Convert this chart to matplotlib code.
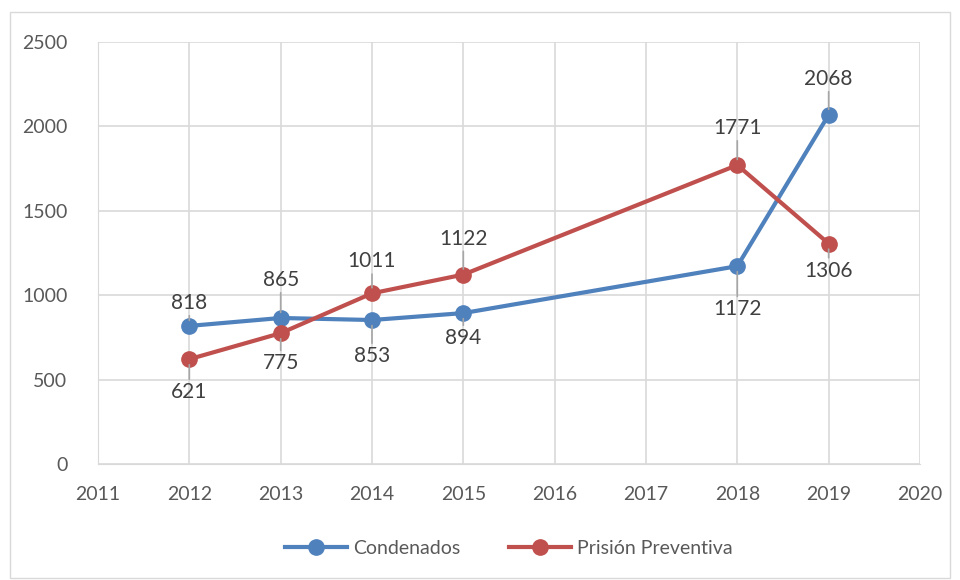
import matplotlib.pyplot as plt
from matplotlib.patches import Rectangle

plt.rcParams['font.family'] = ['Lato', 'DejaVu Sans']
plt.rcParams['font.size'] = 14

# data
years_cond = [2012, 2013, 2014, 2015, 2018, 2019]
condenados = [818, 865, 853, 894, 1172, 2068]
years_prev = [2012, 2013, 2014, 2015, 2018, 2019]
preventiva = [621, 775, 1011, 1122, 1771, 1306]

# label offsets in pixels (above > 0, below < 0)
cond_off = [23, 38, -36, -25, -43, 36]
prev_off = [-33, -30, 32, 36, 37, -27]

blue = '#4F81BD'
red = '#C0504D'
grid_c = '#D9D9D9'
txt = '#404040'

fig = plt.figure(figsize=(9.6, 5.8), dpi=100)
ax = fig.add_axes([0.1021, 0.2, 0.8562, 0.7276])

fig.patches.append(Rectangle((10 / 960, 2 / 580), 940 / 960, 566 / 580,
                             transform=fig.transFigure, fill=False,
                             edgecolor='#D9D9D9', linewidth=1))

ax.plot(years_cond, condenados, color=blue, linewidth=3, marker='o',
        markersize=11, label='Condenados', zorder=3)
ax.plot(years_prev, preventiva, color=red, linewidth=3, marker='o',
        markersize=11, label='Prisión Preventiva', zorder=3)

for xs, ys, offs in [(years_cond, condenados, cond_off), (years_prev, preventiva, prev_off)]:
    for x, y, o in zip(xs, ys, offs):
        ax.annotate(str(y), (x, y), xytext=(0, o), textcoords='offset pixels',
                    ha='center', va='center', color=txt, fontsize=15,
                    arrowprops=dict(arrowstyle='-', color='#A6A6A6', lw=1.2,
                                    shrinkA=0, shrinkB=4), zorder=4)

ax.set_xlim(2011, 2020)
ax.set_ylim(0, 2500)
ax.set_xticks(range(2011, 2021))
ax.set_yticks(range(0, 2501, 500))
ax.grid(True, color=grid_c, linewidth=1.2)
ax.set_axisbelow(True)
for s in ['top', 'right']:
    ax.spines[s].set_visible(False)
ax.spines['left'].set_color(grid_c)
ax.spines['bottom'].set_color(grid_c)
ax.tick_params(length=0, colors='#595959', labelsize=14)
ax.tick_params(axis='x', pad=16)
ax.tick_params(axis='y', pad=22)

ax.legend(loc='center', bbox_to_anchor=(0.5, -0.2), ncol=2, frameon=False,
          fontsize=14, labelcolor='#595959', handlelength=3.2,
          columnspacing=2.5, handletextpad=0.3)

fig.savefig('out.png', dpi=100)
